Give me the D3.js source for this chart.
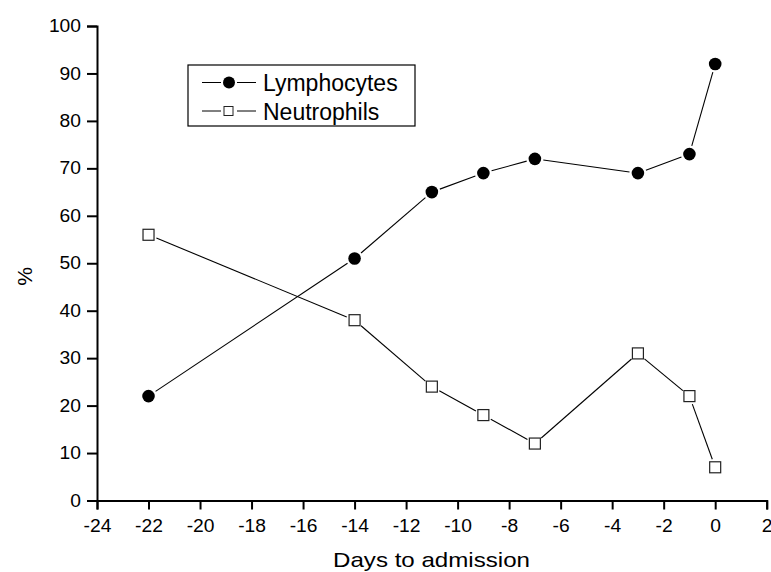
<!DOCTYPE html>
<html>
<head>
<meta charset="utf-8">
<script src="https://cdn.jsdelivr.net/npm/d3@7"></script>
<style>
  body { margin: 0; background: #fff; }
  text { font-family: "Liberation Sans", Arial, sans-serif; fill: #000; }
</style>
</head>
<body>
<div id="chart"></div>
<script>
// data
let days = [-22, -14, -11, -9, -7, -3, -1, 0];
let lymphocytes = [22, 51, 65, 69, 72, 69, 73, 92];
let neutrophils = [56, 38, 24, 18, 12, 31, 22, 7];
let xTicks = [-24, -22, -20, -18, -16, -14, -12, -10, -8, -6, -4, -2, 0, 2];
let yTicks = [0, 10, 20, 30, 40, 50, 60, 70, 80, 90, 100];

let width = 771, height = 572;
let margin = { top: 26, right: 4, bottom: 71, left: 97 };

let svg = d3.select("#chart").append("svg")
    .attr("width", width)
    .attr("height", height);

let x = d3.scaleLinear().domain([-24, 2]).range([margin.left, 766.7]);
let y = d3.scaleLinear().domain([0, 100]).range([500.5, margin.top]);

// stretch text a bit wider, the original font is wide
function stretch(sel, k) {
    sel.each(function() {
        let w = this.getComputedTextLength();
        d3.select(this).attr("textLength", w * k).attr("lengthAdjust", "spacingAndGlyphs");
    });
}

// axes (major + minor ticks)
let xAxis = svg.append("g").attr("transform", "translate(0," + y(0) + ")");
xAxis.call(d3.axisBottom(x).tickValues(d3.range(-23, 2, 2)).tickSize(5).tickFormat(""));
xAxis.call(d3.axisBottom(x).tickValues(xTicks).tickSize(9).tickPadding(10).tickFormat(d => String(d)));
let yAxis = svg.append("g").attr("transform", "translate(" + x(-24) + ",0)");
yAxis.call(d3.axisLeft(y).tickValues(d3.range(5, 100, 10)).tickSize(5).tickFormat(""));
yAxis.call(d3.axisLeft(y).tickValues(yTicks).tickSize(10).tickPadding(6).tickFormat(d => String(d)));

svg.selectAll(".domain").attr("stroke", "#000").attr("stroke-width", 2);
svg.selectAll(".tick line").attr("stroke", "#000").attr("stroke-width", 2);
svg.selectAll(".tick text")
    .style("font-size", "17.5px")
    .style("font-family", "Liberation Sans, Arial, sans-serif")
    .call(stretch, 1.1);

// axis titles
svg.append("text")
    .attr("x", 431.5).attr("y", 567)
    .attr("text-anchor", "middle")
    .style("font-size", "21px")
    .attr("textLength", 197).attr("lengthAdjust", "spacingAndGlyphs")
    .text("Days to admission");
svg.append("text")
    .attr("transform", "translate(32," + 276.5 + ")rotate(-90)")
    .attr("text-anchor", "middle")
    .style("font-size", "21px")
    .text("%");

// lines stop short of the markers
function segments(pts, gap) {
    let out = [];
    for (let i = 0; i < pts.length - 1; i++) {
        let x1 = x(pts[i][0]), y1 = y(pts[i][1]), x2 = x(pts[i + 1][0]), y2 = y(pts[i + 1][1]);
        let len = Math.hypot(x2 - x1, y2 - y1);
        let ux = (x2 - x1) / len, uy = (y2 - y1) / len;
        out.push([x1 + ux * gap, y1 + uy * gap, x2 - ux * gap, y2 - uy * gap]);
    }
    return out;
}

let lymph = days.map((d, i) => [d, lymphocytes[i]]);
let neut = days.map((d, i) => [d, neutrophils[i]]);

[lymph, neut].forEach(pts => {
    svg.append("g").selectAll("line").data(segments(pts, 8.5)).join("line")
        .attr("x1", d => d[0]).attr("y1", d => d[1])
        .attr("x2", d => d[2]).attr("y2", d => d[3])
        .attr("stroke", "#000").attr("stroke-width", 1.1);
});

svg.append("g").selectAll("rect").data(neut).join("rect")
    .attr("x", d => x(d[0]) - 5.5).attr("y", d => y(d[1]) - 5.5)
    .attr("width", 11).attr("height", 11)
    .attr("fill", "#fff").attr("stroke", "#222").attr("stroke-width", 1.2);
svg.append("g").selectAll("circle").data(lymph).join("circle")
    .attr("cx", d => x(d[0])).attr("cy", d => y(d[1]))
    .attr("r", 6.3).attr("fill", "#000");

// legend
let legend = svg.append("g");
legend.append("rect")
    .attr("x", 188).attr("y", 65).attr("width", 227).attr("height", 61)
    .attr("fill", "#fff").attr("stroke", "#000").attr("stroke-width", 1.2);
let rows = [{ name: "Lymphocytes", y: 82.5, type: "circle" }, { name: "Neutrophils", y: 111, type: "square" }];
rows.forEach(r => {
    legend.append("line").attr("x1", 202).attr("x2", 221).attr("y1", r.y).attr("y2", r.y).attr("stroke", "#000");
    legend.append("line").attr("x1", 237).attr("x2", 256).attr("y1", r.y).attr("y2", r.y).attr("stroke", "#000");
    if (r.type == "circle") {
        legend.append("circle").attr("cx", 229).attr("cy", r.y).attr("r", 6).attr("fill", "#000");
    } else {
        legend.append("rect").attr("x", 224).attr("y", r.y - 4.5).attr("width", 9).attr("height", 9)
            .attr("fill", "#fff").attr("stroke", "#222");
    }
    legend.append("text").attr("x", 263).attr("y", r.y + 8.5)
        .style("font-size", "23px")
        .text(r.name);
});
</script>
</body>
</html>
